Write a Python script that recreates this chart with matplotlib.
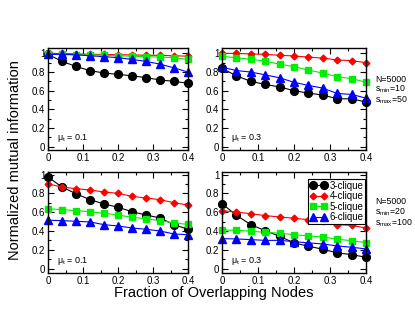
import matplotlib
matplotlib.use('Agg')
import matplotlib.pyplot as plt
from matplotlib.ticker import MultipleLocator, FormatStrFormatter

plt.rcParams['font.family'] = ['Liberation Sans', 'DejaVu Sans']
plt.rcParams['mathtext.fontset'] = 'custom'
plt.rcParams['mathtext.rm'] = 'Liberation Sans'
plt.rcParams['mathtext.it'] = 'Liberation Sans'

# fraction of overlapping nodes
x = [0, 0.04, 0.08, 0.12, 0.16, 0.2, 0.24, 0.28, 0.32, 0.36, 0.4]

# top left: mu_t = 0.1, smin=10, smax=50
tl_c3 = [0.99, 0.915, 0.86, 0.815, 0.79, 0.775, 0.76, 0.74, 0.715, 0.70, 0.68]
tl_c4 = [1.0, 1.0, 0.995, 0.99, 0.99, 0.985, 0.985, 0.98, 0.98, 0.975, 0.97]
tl_c5 = [0.99, 0.99, 0.985, 0.985, 0.98, 0.975, 0.97, 0.965, 0.96, 0.955, 0.935]
tl_c6 = [0.99, 0.99, 0.985, 0.975, 0.965, 0.955, 0.935, 0.915, 0.885, 0.845, 0.80]

# top right: mu_t = 0.3, smin=10, smax=50
tr_c3 = [0.84, 0.76, 0.70, 0.667, 0.64, 0.60, 0.574, 0.553, 0.513, 0.513, 0.478]
tr_c4 = [1.0, 1.0, 0.995, 0.99, 0.98, 0.973, 0.96, 0.95, 0.93, 0.923, 0.90]
tr_c5 = [0.97, 0.952, 0.938, 0.917, 0.884, 0.859, 0.82, 0.79, 0.749, 0.73, 0.69]
tr_c6 = [0.852, 0.816, 0.80, 0.77, 0.738, 0.69, 0.656, 0.628, 0.57, 0.56, 0.52]

# bottom left: mu_t = 0.1, smin=20, smax=100
bl_c3 = [0.973, 0.867, 0.796, 0.733, 0.687, 0.652, 0.605, 0.57, 0.538, 0.467, 0.418]
bl_c4 = [0.90, 0.867, 0.85, 0.835, 0.814, 0.80, 0.768, 0.75, 0.733, 0.70, 0.676]
bl_c5 = [0.637, 0.626, 0.616, 0.605, 0.588, 0.57, 0.545, 0.53, 0.51, 0.485, 0.47]
bl_c6 = [0.514, 0.51, 0.503, 0.496, 0.467, 0.453, 0.432, 0.418, 0.40, 0.368, 0.36]

# bottom right: mu_t = 0.3, smin=20, smax=100
br_c3 = [0.69, 0.567, 0.467, 0.403, 0.344, 0.273, 0.238, 0.206, 0.167, 0.149, 0.12]
br_c4 = [0.616, 0.60, 0.584, 0.563, 0.549, 0.535, 0.52, 0.503, 0.467, 0.46, 0.432]
br_c5 = [0.41, 0.408, 0.397, 0.386, 0.376, 0.361, 0.347, 0.337, 0.312, 0.297, 0.276]
br_c6 = [0.319, 0.315, 0.308, 0.30, 0.30, 0.287, 0.273, 0.262, 0.241, 0.227, 0.209]

labels = ['3-clique', '4-clique', '5-clique', '6-clique']
mu_texts = ['0.1', '0.3', '0.1', '0.3']

styles = [('black', 'o', 5.6), ('red', 'D', 3.4), ('#00ee00', 's', 4.6), ('blue', '^', 5.2)]

fig = plt.figure(figsize=(4.15, 3.21), dpi=100)
W, H = 415.0, 321.0
boxes = [(48, 48.3, 140, 102), (222, 48.3, 144, 102),
         (48, 171.7, 140, 101.6), (222, 171.7, 144, 101.6)]
ylims = [(-0.04, 1.055), (-0.04, 1.055), (-0.05, 1.03), (-0.05, 1.03)]
panels = [(tl_c3, tl_c4, tl_c5, tl_c6), (tr_c3, tr_c4, tr_c5, tr_c6),
          (bl_c3, bl_c4, bl_c5, bl_c6), (br_c3, br_c4, br_c5, br_c6)]

axes = []
for i, (bx, by, bw, bh) in enumerate(boxes):
    ax = fig.add_axes([bx / W, 1 - (by + bh) / H, bw / W, bh / H])
    for ys, (col, mk, ms), lab in zip(panels[i], styles, labels):
        ax.plot(x, ys, color=col, lw=0.8, marker=mk, ms=ms, mfc=col, mec=col,
                clip_on=False, label=lab)
    ax.set_xlim(0, 0.4)
    ax.set_ylim(*ylims[i])
    ax.xaxis.set_major_locator(MultipleLocator(0.1))
    ax.xaxis.set_minor_locator(MultipleLocator(0.05))
    ax.yaxis.set_major_locator(MultipleLocator(0.2))
    ax.yaxis.set_minor_locator(MultipleLocator(0.1))
    ax.xaxis.set_major_formatter(FormatStrFormatter('%g'))
    ax.yaxis.set_major_formatter(FormatStrFormatter('%g'))
    ax.tick_params(which='both', direction='in', top=True, right=True,
                   labelsize=7, pad=2, width=0.8)
    ax.tick_params(which='major', length=4)
    ax.tick_params(which='minor', length=2)
    for sp in ax.spines.values():
        sp.set_linewidth(1.0)
    ax.text(0.065, 0.12, r'$\mu_t$ = ' + mu_texts[i], transform=ax.transAxes,
            fontsize=6.5, va='center')
    axes.append(ax)

leg = axes[3].legend(loc='upper right', bbox_to_anchor=(0.995, 0.93),
                     borderaxespad=0, fontsize=7, numpoints=2, fancybox=False,
                     edgecolor='black', framealpha=1, borderpad=0.2,
                     labelspacing=0.05, handlelength=1.7, handletextpad=0.3)
leg.get_frame().set_linewidth(0.8)

side = [(79, 'N=5000'), (89.5, r'$\mathregular{s_{min}}$=10'), (100.5, r'$\mathregular{s_{max}}$=50'),
        (202, 'N=5000'), (212.5, r'$\mathregular{s_{min}}$=20'), (223.5, r'$\mathregular{s_{max}}$=100')]
for yy, s in side:
    fig.text(375 / W, 1 - yy / H, s, fontsize=6.3, va='center')

fig.text(214 / W, 1 - 293 / H, 'Fraction of Overlapping Nodes', fontsize=10.5,
         ha='center', va='center')
fig.text(15 / W, 1 - 160 / H, 'Normalized mutual information', fontsize=10.5,
         ha='center', va='center', rotation=90)

fig.savefig('out.png', dpi=100)
